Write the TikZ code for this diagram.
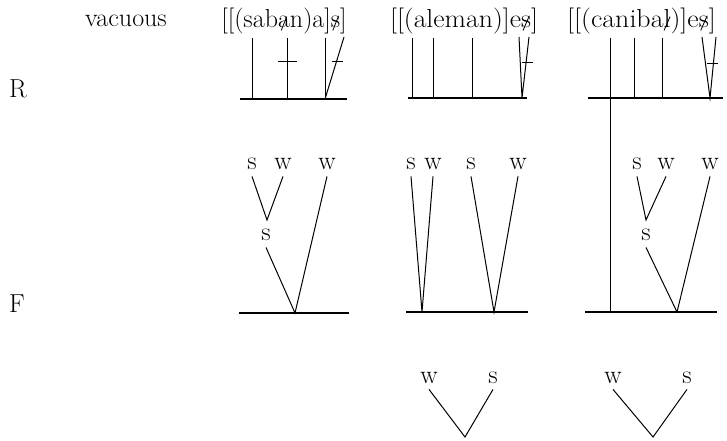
\documentclass[tikz,border=0pt]{standalone}
\usepackage{graphicx}
\newcommand\strk[1]{\ooalign{#1\cr\hidewidth\raisebox{-3pt}{\rotatebox[origin=c]{-22}{\rule{0.8pt}{15pt}}}\hidewidth\cr}}
\tikzset{
  txt/.style={inner sep=0pt, anchor=base, font=\fontsize{26}{30}\selectfont},
  lab/.style={txt},
  tier/.style={line width=1pt},
  base/.style={line width=1.4pt},
  branch/.style={line width=1pt},
}
\begin{document}
\begin{tikzpicture}[x=1pt,y=-1pt]
\useasboundingbox (0,0) rectangle (727,441);
% headings and tier labels
\node[txt] (vac) at (126,27) {vacuous};
\node[txt] (R) at (18,98) {R};
\node[txt] (F) at (17,312) {F};
\node[txt] (w1) at (284,28) {[[(sab\strk{a}n)a]\strk{s}]};
\node[txt] (w2) at (464,28) {\scalebox{1.067}[1]{[[(aleman)]e\strk{s}]}};
\node[txt] (w3) at (641.5,28) {\scalebox{1.074}[1]{[[(caniba\strk{l})]e\strk{s}]}};
% R tier, column 1
\draw[base] (240,99) -- (347,99);
\draw[tier] (252,38) -- (252,99);
\draw[tier] (287,38) -- (287,99);
\draw[tier] (278,62) -- (297,62);
\draw[tier] (325,38) -- (325,99);
\draw[tier] (325,99) -- (344,37);
\draw[tier] (332,62) -- (343,62);
% R tier, column 2
\draw[base] (408,98) -- (527,98);
\draw[tier] (412,38) -- (412,98);
\draw[tier] (433,38) -- (433,98);
\draw[tier] (472,38) -- (472,98);
\draw[tier] (519,37) -- (522,98) -- (529,37);
\draw[tier] (522,63) -- (533,63);
% R tier, column 3
\draw[base] (588,98) -- (723,98);
\draw[tier] (610,38) -- (610,313);
\draw[tier] (634,38) -- (634,98);
\draw[tier] (662,38) -- (662,98);
\draw[tier] (702,37) -- (710,98) -- (716,37);
\draw[tier] (707,64) -- (718,64);
% F tier baselines
\draw[base] (239,313) -- (349,313);
\draw[base] (406,312) -- (528,312);
\draw[base] (585,312) -- (717,312);
\draw[line width=2.4pt] (658,312) -- (703,312);
% F tree, column 1
\node[lab] (a1) at (252,169) {s};
\node[lab] (a2) at (283,169) {w};
\node[lab] (a3) at (327,169) {w};
\node[lab] (a4) at (266,240) {s};
\coordinate (ja) at (267,220);
\coordinate (ra) at (295,313);
\draw[branch] ([yshift=-7pt]a1.south) -- (ja) -- ([yshift=-7pt]a2.south);
\draw[branch] ([yshift=-7pt]a4.south) -- (ra) -- ([yshift=-7pt]a3.south);
% F tree, column 2
\node[lab] (b1) at (411,169) {s};
\node[lab] (b2) at (433,169) {w};
\node[lab] (b3) at (471,169) {s};
\node[lab] (b4) at (518,169) {w};
\coordinate (rb1) at (422,312);
\coordinate (rb2) at (494,312);
\draw[branch] ([yshift=-7pt]b1.south) -- (rb1) -- ([yshift=-7pt]b2.south);
\draw[branch] ([yshift=-7pt]b3.south) -- (rb2) -- ([yshift=-7pt]b4.south);
% F tree, column 3
\node[lab] (c1) at (637,169) {s};
\node[lab] (c2) at (666,169) {w};
\node[lab] (c3) at (710,169) {w};
\node[lab] (c4) at (646,240) {s};
\coordinate (jc) at (646,220);
\coordinate (rc) at (677,312);
\draw[branch] ([yshift=-7pt]c1.south) -- (jc) -- ([yshift=-7pt]c2.south);
\draw[branch] ([yshift=-7pt]c4.south) -- (rc) -- ([yshift=-7pt]c3.south);
% bottom trees
\node[lab] (d1) at (429,383) {w};
\node[lab] (d2) at (493,383) {s};
\coordinate (jd) at (465,437);
\draw[branch] ([yshift=-6pt]d1.south) -- (jd) -- ([yshift=-6pt]d2.south);
\node[lab] (e1) at (613,383) {w};
\node[lab] (e2) at (687,383) {s};
\coordinate (je) at (653,437);
\draw[branch] ([yshift=-6pt]e1.south) -- (je) -- ([yshift=-6pt]e2.south);
\end{tikzpicture}
\end{document}
